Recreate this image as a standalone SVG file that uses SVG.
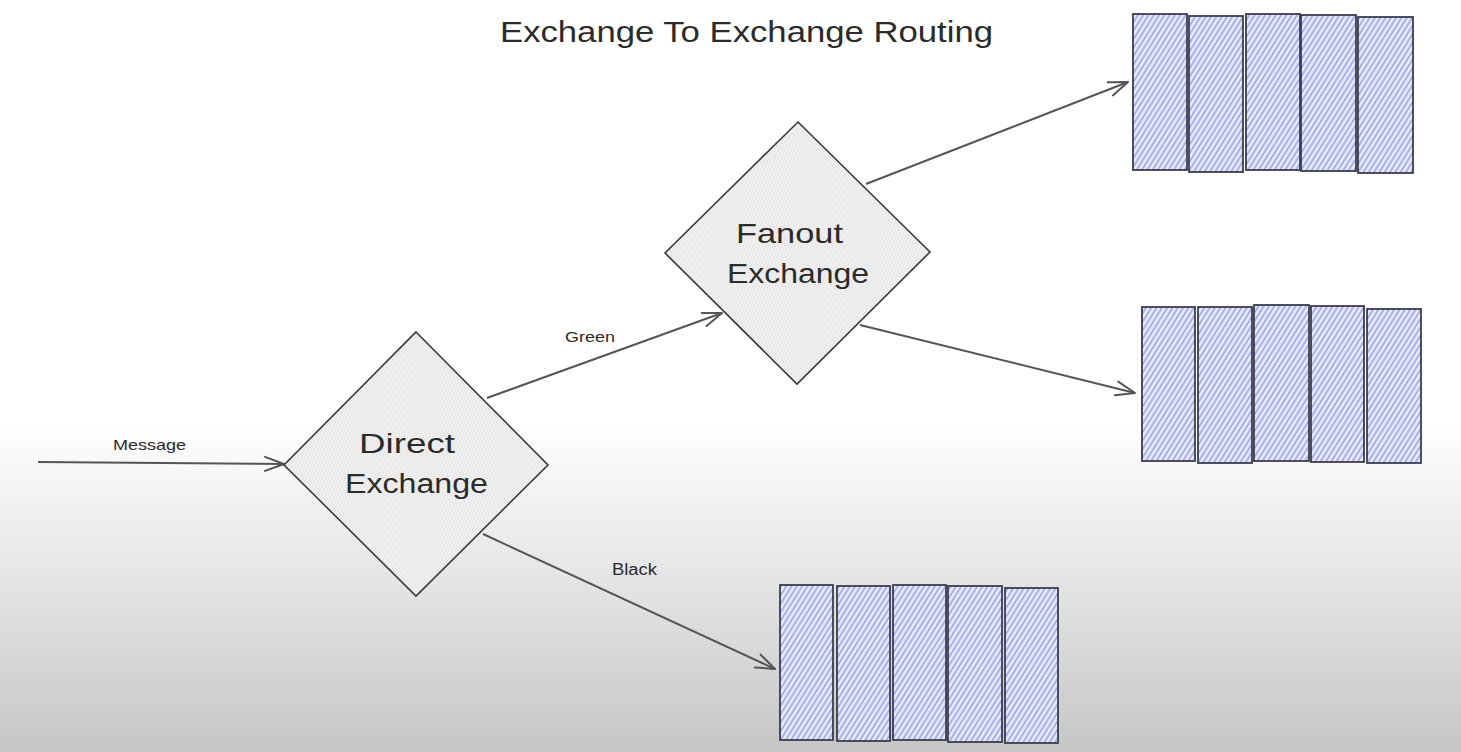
<svg xmlns="http://www.w3.org/2000/svg" width="1461" height="752" viewBox="0 0 1461 752">
  <defs>
    <linearGradient id="bg" x1="0" y1="0" x2="0" y2="1">
      <stop offset="0" stop-color="#ffffff"/>
      <stop offset="0.56" stop-color="#ffffff"/>
      <stop offset="0.8" stop-color="#e1e1e1"/>
      <stop offset="1" stop-color="#c6c6c6"/>
    </linearGradient>
    <pattern id="qhatch" width="4.5" height="4.5" patternUnits="userSpaceOnUse" patternTransform="rotate(32)">
      <rect width="4.5" height="4.5" fill="#e6e9fc"/>
      <line x1="1" y1="0" x2="1" y2="4.5" stroke="#97a2e8" stroke-width="1.5"/>
    </pattern>
    <pattern id="dhatch" width="3" height="3" patternUnits="userSpaceOnUse" patternTransform="rotate(22)">
      <rect width="3" height="3" fill="#f4f4f4"/>
      <line x1="1" y1="0" x2="1" y2="3" stroke="#dcdcdc" stroke-width="1"/>
    </pattern>
    <marker id="arr" markerWidth="24" markerHeight="20" refX="22" refY="10" orient="auto" markerUnits="userSpaceOnUse">
      <path d="M3 3 L22 10 L3 17" fill="none" stroke="#555" stroke-width="2" stroke-linecap="round" stroke-linejoin="round"/>
    </marker>
  </defs>
  <style>
    .lbl { font-family: "Liberation Sans", "DejaVu Sans", sans-serif; fill: #2b2b2b; }
    .q rect { fill: url(#qhatch); stroke: #3c3c4c; stroke-width: 1.8; }
    .dia { fill: url(#dhatch); stroke: #3a3a3a; stroke-width: 1.6; }
    .con { fill: none; stroke: #555; stroke-width: 2; marker-end: url(#arr); }
  </style>

  <rect x="0" y="0" width="1461" height="752" fill="url(#bg)"/>

  <g id="title">
    <text class="lbl" x="500" y="42" font-size="30" textLength="493" lengthAdjust="spacingAndGlyphs">Exchange To Exchange Routing</text>
  </g>

  <g id="connectors">
    <path class="con" d="M38 462 L284 464" stroke="#888" stroke-width="3"/>
    <path class="con" d="M487 398 L722 313"/>
    <path class="con" d="M483 534 L775 669" stroke-width="2.5" stroke="#666"/>
    <path class="con" d="M866 184 L1128 82"/>
    <path class="con" d="M860 325 L1135 393"/>
    <text class="lbl" x="113" y="450" font-size="15" textLength="73" lengthAdjust="spacingAndGlyphs">Message</text>
    <text class="lbl" x="565" y="342" font-size="14" textLength="50" lengthAdjust="spacingAndGlyphs">Green</text>
    <text class="lbl" x="612" y="575" font-size="16" textLength="45" lengthAdjust="spacingAndGlyphs">Black</text>
  </g>

  <g id="direct-exchange">
    <polygon class="dia" points="416,332 548,465 416,596 284,465"/>
    <text class="lbl" x="359" y="453" font-size="27" textLength="96" lengthAdjust="spacingAndGlyphs">Direct</text>
    <text class="lbl" x="345" y="493" font-size="27" textLength="143" lengthAdjust="spacingAndGlyphs">Exchange</text>
  </g>

  <g id="fanout-exchange">
    <polygon class="dia" points="798,122 930,252 797,384 665,253"/>
    <text class="lbl" x="736" y="243" font-size="28" textLength="107" lengthAdjust="spacingAndGlyphs">Fanout</text>
    <text class="lbl" x="727" y="283" font-size="27" textLength="142" lengthAdjust="spacingAndGlyphs">Exchange</text>
  </g>

  <g id="queue-top" class="q">
    <rect x="1133" y="14" width="54" height="156"/>
    <rect x="1189" y="16" width="54" height="156"/>
    <rect x="1246" y="14" width="54" height="156"/>
    <rect x="1301" y="15" width="55" height="156"/>
    <rect x="1358" y="17" width="55" height="156"/>
  </g>

  <g id="queue-middle" class="q">
    <rect x="1142" y="307" width="53" height="154"/>
    <rect x="1198" y="307" width="54" height="156"/>
    <rect x="1254" y="305" width="55" height="156"/>
    <rect x="1311" y="306" width="53" height="156"/>
    <rect x="1367" y="309" width="54" height="154"/>
  </g>

  <g id="queue-bottom" class="q">
    <rect x="780" y="585" width="53" height="155"/>
    <rect x="837" y="586" width="53" height="155"/>
    <rect x="893" y="585" width="53" height="155"/>
    <rect x="948" y="586" width="54" height="156"/>
    <rect x="1005" y="588" width="53" height="155"/>
  </g>
</svg>
